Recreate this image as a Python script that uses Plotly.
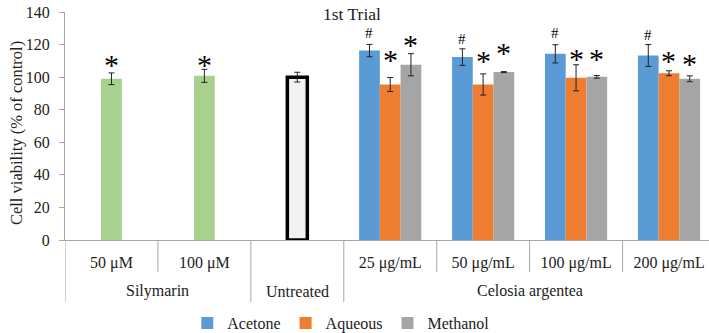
import plotly.graph_objects as go

# ---- data ----
inner_labels = ["50 μM", "100 μM", "", "25 μg/mL", "50 μg/mL", "100 μg/mL", "200 μg/mL"]
outer_labels = ["Silymarin", "Untreated", "Celosia argentea"]

sily_vals = [99.0, 100.8]
sily_err = [3.6, 4.0]
sily_star = [112.0, 112.0]

untreated_val = [100.0]
untreated_err = [3.0]

acetone = [116.3, 112.3, 114.3, 113.3]
acetone_err = [3.8, 5.1, 5.6, 6.7]
acetone_mark = [127.0, 123.5, 127.2, 126.0]

aqueous = [95.5, 95.5, 99.6, 102.4]
aqueous_err = [4.3, 6.5, 8.0, 1.5]
aqueous_mark = [115.3, 114.3, 116.0, 114.3]

methanol = [107.6, 103.1, 100.2, 99.0]
methanol_err = [6.8, 0.3, 0.8, 1.8]
methanol_mark = [124.5, 119.4, 116.0, 112.7]

# ---- positions ----
xs_sily = [0, 1]
xs_untr = [2]
xs_cel = [3, 4, 5, 6]

FONT = "Liberation Serif"
BW = 0.223

fig = go.Figure()

def eb(arr):
    return dict(type="data", array=arr, visible=True, color="#222222", thickness=1, width=3)

fig.add_trace(go.Bar(x=xs_sily, y=sily_vals, width=BW, offset=-BW / 2,
                     marker=dict(color="#A9D18E", line=dict(width=0)),
                     error_y=eb(sily_err), showlegend=False))
fig.add_trace(go.Bar(x=xs_untr, y=untreated_val, width=0.215, offset=-0.1075,
                     marker=dict(color="#F2F2F2", line=dict(color="black", width=3.5)),
                     error_y=eb(untreated_err), showlegend=False))
for name, vals, err, col, off in [
    ("Acetone", acetone, acetone_err, "#5B9BD5", -0.335),
    ("Aqueous", aqueous, aqueous_err, "#ED7D31", -0.112),
    ("Methanol", methanol, methanol_err, "#A5A5A5", 0.111),
]:
    fig.add_trace(go.Bar(x=xs_cel, y=vals, width=BW, offset=off, name=name,
                         marker=dict(color=col, line=dict(width=0)),
                         error_y=eb(err)))

ann = []
STAR_SHIFT = -7
STAR_SIZE = 30
for x, y in zip(xs_sily, sily_star):
    ann.append(dict(x=x, y=y, text="*", showarrow=False, font=dict(size=STAR_SIZE, family=FONT, color="black"),
                    yanchor="middle", yshift=STAR_SHIFT))
for i, x in enumerate(xs_cel):
    ann.append(dict(x=x - 0.335 + BW / 2, y=acetone_mark[i], text="#", showarrow=False,
                    font=dict(size=15, family=FONT, color="black"), yanchor="middle", yshift=0))
    ann.append(dict(x=x - 0.112 + BW / 2, y=aqueous_mark[i], text="*", showarrow=False,
                    font=dict(size=STAR_SIZE, family=FONT, color="black"), yanchor="middle", yshift=STAR_SHIFT))
    ann.append(dict(x=x + 0.111 + BW / 2, y=methanol_mark[i], text="*", showarrow=False,
                    font=dict(size=STAR_SIZE, family=FONT, color="black"), yanchor="middle", yshift=STAR_SHIFT))

# outer labels
for x, t in zip([0.5, 2, 4.5], outer_labels):
    ann.append(dict(x=x, y=0, yref="paper", text=t, showarrow=False, yanchor="middle", yshift=-51,
                    font=dict(size=16, family=FONT, color="#222222")))
# title
ann.append(dict(x=0.446, xref="paper", y=1, yref="paper", text="1st Trial", showarrow=False,
                yanchor="middle", yshift=-2, font=dict(size=17.5, family=FONT, color="#222222")))
# y title
ann.append(dict(x=0, xref="paper", y=0.469, yref="paper", text="Cell viability (% of control)",
                textangle=-90, showarrow=False, xanchor="center", xshift=-49,
                font=dict(size=16.5, family=FONT, color="#222222")))

shapes = []
for xv in [-0.5, 1.5, 2.5]:
    shapes.append(dict(type="line", xref="x", yref="paper", x0=xv, x1=xv, y0=0, y1=-0.272,
                       line=dict(color="#A6A6A6", width=1)))
for xv in [0.5, 3.5, 4.5, 5.5]:
    shapes.append(dict(type="line", xref="x", yref="paper", x0=xv, x1=xv, y0=0, y1=-0.14,
                       line=dict(color="#A6A6A6", width=1)))

fig.update_layout(
    width=709, height=333,
    margin=dict(l=64.5, r=0, t=12, b=93, autoexpand=False),
    paper_bgcolor="white", plot_bgcolor="white",
    barmode="overlay",
    font=dict(family=FONT, size=16, color="#222222"),
    annotations=ann, shapes=shapes,
    legend=dict(orientation="h", x=0.429, xanchor="center", y=-0.364, yanchor="middle", yref="paper",
                font=dict(size=16, family=FONT, color="#222222"), itemwidth=30,
                bgcolor="rgba(0,0,0,0)"),
    xaxis=dict(range=[-0.5, 6.43], tickvals=list(range(7)), ticktext=inner_labels,
               showgrid=False, zeroline=False, showline=True, linecolor="#A6A6A6", linewidth=1,
               ticks="", ticklabelstandoff=8, fixedrange=True, automargin=False,
               tickfont=dict(size=16, family=FONT, color="#222222")),
    yaxis=dict(range=[0, 140], tickvals=list(range(0, 141, 20)), showgrid=False, zeroline=False,
               showline=True, linecolor="#A6A6A6", linewidth=1, ticks="outside", ticklen=5,
               tickcolor="#A6A6A6", ticklabelstandoff=6, automargin=False,
               tickfont=dict(size=16, family=FONT, color="#222222")),
)

fig.write_html("out.html", config={"displayModeBar": False},
               post_script="document.body.style.margin='0px';")
